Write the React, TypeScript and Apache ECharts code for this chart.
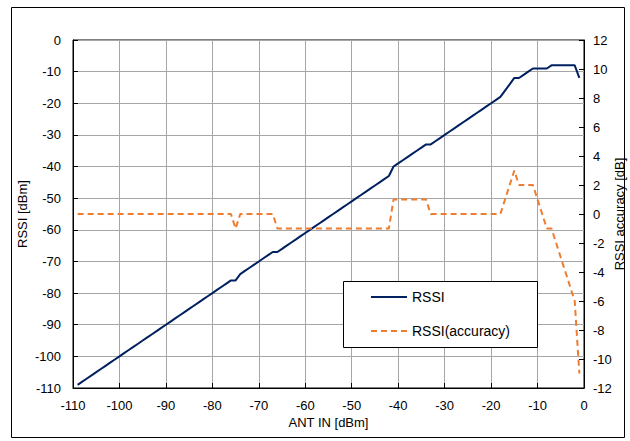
import React, { useEffect, useRef } from "react";
import * as echarts from "echarts";

// ANT IN [dBm] measurement points
const ANT_IN = [
  -109, -108, -107, -106, -105, -104, -103, -102, -101, -100,
  -99, -98, -97, -96, -95, -94, -93, -92, -91, -90,
  -89, -88, -87, -86, -85, -84, -83, -82, -81, -80,
  -79, -78, -77, -76, -75, -74, -73, -72, -71, -70,
  -69, -68, -67, -66, -65, -64, -63, -62, -61, -60,
  -59, -58, -57, -56, -55, -54, -53, -52, -51, -50,
  -49, -48, -47, -46, -45, -44, -43, -42, -41, -40,
  -39, -38, -37, -36, -35, -34, -33, -32, -31, -30,
  -29, -28, -27, -26, -25, -24, -23, -22, -21, -20,
  -19, -18, -17, -16, -15, -14, -13, -12, -11, -10,
  -9, -8, -7, -6, -5, -4, -3, -2, -1,
];

// RSSI [dBm] reading
const RSSI = [
  -109, -108, -107, -106, -105, -104, -103, -102, -101, -100,
  -99, -98, -97, -96, -95, -94, -93, -92, -91, -90,
  -89, -88, -87, -86, -85, -84, -83, -82, -81, -80,
  -79, -78, -77, -76, -76, -74, -73, -72, -71, -70,
  -69, -68, -67, -67, -66, -65, -64, -63, -62, -61,
  -60, -59, -58, -57, -56, -55, -54, -53, -52, -51,
  -50, -49, -48, -47, -46, -45, -44, -43, -40, -39,
  -38, -37, -36, -35, -34, -33, -33, -32, -31, -30,
  -29, -28, -27, -26, -25, -24, -23, -22, -21, -20,
  -19, -18, -16, -14, -12, -12, -11, -10, -9, -9,
  -9, -9, -8, -8, -8, -8, -8, -8, -12,
];

// RSSI accuracy [dB]
const ACCURACY = [
  0, 0, 0, 0, 0, 0, 0, 0, 0, 0,
  0, 0, 0, 0, 0, 0, 0, 0, 0, 0,
  0, 0, 0, 0, 0, 0, 0, 0, 0, 0,
  0, 0, 0, 0, -1, 0, 0, 0, 0, 0,
  0, 0, 0, -1, -1, -1, -1, -1, -1, -1,
  -1, -1, -1, -1, -1, -1, -1, -1, -1, -1,
  -1, -1, -1, -1, -1, -1, -1, -1, 1, 1,
  1, 1, 1, 1, 1, 1, 0, 0, 0, 0,
  0, 0, 0, 0, 0, 0, 0, 0, 0, 0,
  0, 0, 1, 2, 3, 2, 2, 2, 2, 1,
  0, -1, -1, -2, -3, -4, -5, -6, -11,
];

const SERIES_NAMES = ["RSSI", "RSSI(accuracy)"];
const X_AXIS_TITLE = "ANT IN [dBm]";
const LEFT_AXIS_TITLE = "RSSI [dBm]";
const RIGHT_AXIS_TITLE = "RSSI accuracy [dB]";

export default function App() {
  const ref = useRef<HTMLDivElement>(null);

  useEffect(() => {
    document.body.style.margin = "0";
    const chart = echarts.init(ref.current as HTMLDivElement, undefined, {
      renderer: "svg",
    });
    const font = "'Liberation Sans', Arial, sans-serif";
    const labelStyle = { color: "#000", fontSize: 13, fontFamily: font };
    const gridLine = { show: true, lineStyle: { color: "#a6a6a6", width: 1 } };
    const tick = { show: true, inside: true, length: 5, lineStyle: { color: "#000" } };
    const axisLine = { show: true, onZero: false, lineStyle: { color: "#000", width: 1 } };

    chart.setOption({
      animation: false,
      backgroundColor: "#fff",
      textStyle: { fontFamily: font },
      grid: {
        left: 73,
        right: 46,
        top: 40,
        bottom: 53,
        outerBoundsMode: "none",
        containLabel: false,
        show: true,
        borderColor: "#000",
        borderWidth: 1,
        backgroundColor: "transparent",
      },
      graphic: [
        {
          type: "rect",
          silent: true,
          z: -10,
          shape: { x: 11.5, y: 7.5, width: 613, height: 430 },
          style: { fill: "none", stroke: "#000", lineWidth: 1 },
        },
        {
          type: "rect",
          silent: true,
          z: 3,
          shape: { x: 343.5, y: 281.5, width: 194, height: 66 },
          style: { fill: "#fff", stroke: "#000", lineWidth: 1 },
        },
      ],
      legend: {
        orient: "vertical",
        left: 370,
        top: 290,
        padding: 0,
        itemWidth: 36,
        itemHeight: 14,
        itemGap: 20,
        z: 5,
        itemStyle: { opacity: 0 },
        textStyle: { color: "#000", fontSize: 14, fontFamily: font },
        data: SERIES_NAMES,
      },
      xAxis: {
        type: "value",
        min: -110,
        max: 0,
        interval: 10,
        name: X_AXIS_TITLE,
        nameLocation: "middle",
        nameGap: 28,
        nameMoveOverlap: false,
        nameTextStyle: labelStyle,
        axisLine,
        axisTick: tick,
        axisLabel: { ...labelStyle, margin: 11 },
        splitLine: gridLine,
      },
      yAxis: [
        {
          type: "value",
          position: "left",
          min: -110,
          max: 0,
          interval: 10,
          name: LEFT_AXIS_TITLE,
          nameLocation: "middle",
          nameRotate: 90,
          nameGap: 44,
          nameMoveOverlap: false,
          nameTextStyle: labelStyle,
          axisLine,
          axisTick: tick,
          axisLabel: { ...labelStyle, margin: 12 },
          splitLine: gridLine,
        },
        {
          type: "value",
          position: "right",
          min: -12,
          max: 12,
          interval: 2,
          name: RIGHT_AXIS_TITLE,
          nameLocation: "middle",
          nameRotate: 90,
          nameGap: 29,
          nameMoveOverlap: false,
          nameTextStyle: labelStyle,
          axisLine,
          axisTick: tick,
          axisLabel: { ...labelStyle, margin: 9 },
          splitLine: { show: false },
        },
      ],
      series: [
        {
          name: SERIES_NAMES[0],
          type: "line",
          yAxisIndex: 0,
          symbol: "none",
          z: 2,
          lineStyle: { color: "#002060", width: 2 },
          itemStyle: { color: "#002060" },
          data: ANT_IN.map((x, i) => [x, RSSI[i]]),
        },
        {
          name: SERIES_NAMES[1],
          type: "line",
          yAxisIndex: 1,
          symbol: "none",
          z: 2,
          lineStyle: { color: "#ed7d31", width: 2, type: [6, 4] },
          itemStyle: { color: "#ed7d31" },
          data: ANT_IN.map((x, i) => [x, ACCURACY[i]]),
        },
      ],
    });
    return () => chart.dispose();
  }, []);

  return <div ref={ref} style={{ width: 630, height: 441 }} />;
}
